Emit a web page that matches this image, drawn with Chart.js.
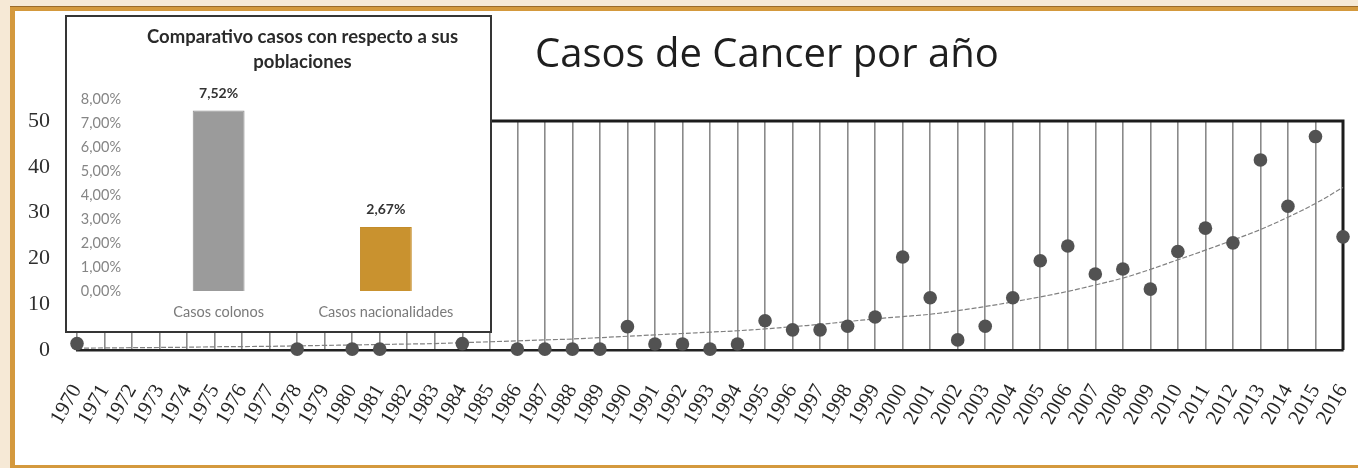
<!DOCTYPE html>
<html><head><meta charset="utf-8">
<script src="https://cdn.jsdelivr.net/npm/chart.js@4.4.1/dist/chart.umd.min.js"></script>
<style>
html,body{margin:0;padding:0;width:1358px;height:468px;overflow:hidden;background:#f6e9d6;}
#panel{position:absolute;left:10px;top:6px;width:1400px;height:462px;background:#fff;border-left:5px solid #d4993d;border-top:5px solid #d4993d;border-bottom:3px solid #d4993d;box-sizing:border-box;}
#topline{position:absolute;left:10px;top:6px;width:1400px;height:1px;background:#9a6a2a;}
#main{position:absolute;left:0;top:0;}
#title{position:absolute;left:535px;top:32px;font-family:"Open Sans",sans-serif;font-weight:500;font-size:40px;line-height:40px;color:#1e1e1e;white-space:nowrap;}
#inset{position:absolute;left:65px;top:15px;width:427px;height:318px;background:#fff;}
#insetCanvas{position:absolute;left:0;top:0;}
#insetTitle{position:absolute;left:70px;top:8.5px;width:335px;text-align:center;font-family:Lato,sans-serif;font-weight:bold;font-size:18.5px;line-height:25px;color:#2a2a2a;white-space:nowrap;}
#insetBorder{position:absolute;left:0;top:0;width:427px;height:318px;box-sizing:border-box;border:2.5px solid #353535;}
</style>
</head><body>
<div id="panel"></div>
<div id="topline"></div>
<canvas id="main" width="1358" height="468"></canvas>
<div id="title">Casos de Cancer por año</div>
<div id="inset">
  <canvas id="insetCanvas" width="427" height="318"></canvas>
  <div id="insetTitle">Comparativo casos con respecto a sus<br>poblaciones</div>
  <div id="insetBorder"></div>
</div>
<script>
// ---- main chart data ----
const years = ['1970','1971','1972','1973','1974','1975','1976','1977','1978','1979','1980','1981','1982','1983','1984','1985','1986','1987','1988','1989','1990','1991','1992','1993','1994','1995','1996','1997','1998','1999','2000','2001','2002','2003','2004','2005','2006','2007','2008','2009','2010','2011','2012','2013','2014','2015','2016'];
const cases = [1.4,null,null,null,null,null,null,null,0.2,null,0.2,0.2,null,null,1.4,null,0.2,0.2,0.2,0.2,5.1,1.3,1.3,0.2,1.3,6.4,4.4,4.4,5.2,7.2,20.3,11.4,2.2,5.2,11.4,19.5,22.7,16.6,17.7,13.3,21.5,26.6,23.4,41.5,31.4,46.6,24.7];
const trend = [0.4,0.45,0.5,0.55,0.6,0.7,0.75,0.8,0.9,1.0,1.1,1.2,1.3,1.4,1.6,1.8,2.0,2.2,2.4,2.7,3.0,3.3,3.6,3.9,4.2,4.6,5.1,5.6,6.2,6.8,7.3,7.8,8.6,9.5,10.5,11.6,12.8,14.2,15.7,17.6,19.7,21.8,24.0,26.3,29.0,32.0,35.5];
const yTicks = [0,10,20,30,40,50];

// ---- inset chart data ----
const insetCategories = ['Casos colonos','Casos nacionalidades'];
const insetValues = [7.52, 2.67];
const insetTicks = [0,1,2,3,4,5,6,7,8];

const boxPlugin = {
  id: 'box',
  beforeDatasetsDraw(chart) {
    const a = chart.chartArea, c = chart.ctx;
    c.save();
    c.strokeStyle = '#1c1c1c';
    c.lineWidth = 3;
    c.beginPath();
    c.moveTo(a.left, a.top);
    c.lineTo(a.right, a.top);
    c.lineTo(a.right, a.bottom);
    c.stroke();
    c.restore();
  }
};

new Chart(document.getElementById('main'), {
  type: 'line',
  data: {
    labels: years,
    datasets: [
      {
        label: 'Casos',
        data: cases,
        showLine: false,
        pointRadius: 6.8,
        pointBackgroundColor: '#525252',
        pointBorderColor: '#525252',
        pointBorderWidth: 0,
        clip: false
      },
      {
        label: 'Tendencia',
        data: trend,
        borderColor: '#808080',
        borderWidth: 1.2,
        borderDash: [5, 2],
        pointRadius: 0,
        tension: 0.4,
        fill: false,
        clip: false
      }
    ]
  },
  options: {
    responsive: false,
    animation: false,
    devicePixelRatio: 1,
    layout: { padding: { top: 121, right: 15, bottom: 0, left: 0 } },
    plugins: { legend: { display: false }, tooltip: { enabled: false }, title: { display: false } },
    scales: {
      x: {
        type: 'category',
        offset: false,
        grid: { display: true, color: '#8a8a8a', lineWidth: 1.6, drawTicks: false, tickLength: 0 },
        border: { display: true, color: '#222', width: 2.5 },
        ticks: {
          autoSkip: false, minRotation: 60, maxRotation: 60, padding: 30,
          color: '#262626', font: { family: 'Liberation Serif', size: 21 }
        },
        afterFit(s) { s.height = 118; s.paddingLeft = 0; s.paddingRight = 0; }
      },
      y: {
        min: 0, max: 50,
        afterBuildTicks(s) { s.ticks = yTicks.map(v => ({ value: v })); },
        grid: { display: false, drawTicks: false },
        border: { display: false },
        ticks: { padding: 27, color: '#2e2e2e', font: { family: 'Liberation Serif', size: 22 } },
        afterFit(s) { s.width = 77; s.paddingTop = 0; s.paddingBottom = 0; }
      }
    }
  },
  plugins: [boxPlugin]
});

const barLabelPlugin = {
  id: 'barLabels',
  afterDatasetsDraw(chart) {
    const c = chart.ctx;
    const meta = chart.getDatasetMeta(0);
    c.save();
    c.font = 'bold 14px Lato, sans-serif';
    c.fillStyle = '#333';
    c.textAlign = 'center';
    c.textBaseline = 'middle';
    meta.data.forEach((bar, i) => {
      const v = chart.data.datasets[0].data[i];
      c.fillText(v.toFixed(2).replace('.', ',') + '%', bar.x, bar.y - 17);
    });
    c.restore();
  }
};

new Chart(document.getElementById('insetCanvas'), {
  type: 'bar',
  data: {
    labels: insetCategories,
    datasets: [{
      data: insetValues,
      backgroundColor: ['#9b9b9b', '#c9922f'],
      borderColor: ['#8e8e8e', '#c38c2a'],
      borderWidth: 1,
      barPercentage: 0.31,
      categoryPercentage: 1
    }]
  },
  options: {
    responsive: false,
    animation: false,
    devicePixelRatio: 1,
    layout: { padding: { top: 84, right: 22.5, bottom: 0, left: 0 } },
    plugins: { legend: { display: false }, tooltip: { enabled: false }, title: { display: false } },
    scales: {
      x: {
        grid: { display: false, drawTicks: false },
        border: { display: false },
        ticks: { padding: 13, color: '#7a7a7a', font: { family: 'Lato', size: 14.5 } },
        afterFit(s) { s.height = 42; }
      },
      y: {
        min: 0, max: 8,
        afterBuildTicks(s) { s.ticks = insetTicks.map(v => ({ value: v })); },
        grid: { display: false, drawTicks: false },
        border: { display: false },
        ticks: {
          padding: 14, color: '#858585', font: { family: 'Lato', size: 14.5 },
          callback: v => v.toFixed(2).replace('.', ',') + '%'
        },
        afterFit(s) { s.width = 70; }
      }
    }
  },
  plugins: [barLabelPlugin]
});
</script>
</body></html>
